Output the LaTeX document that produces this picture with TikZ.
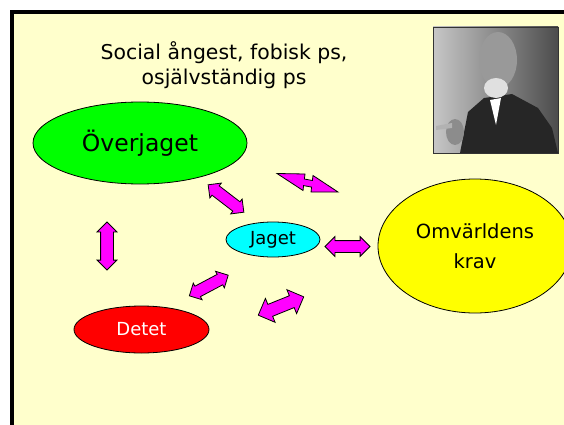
\documentclass[tikz,border=0pt]{standalone}
\usepackage{fontspec}
\setmainfont{DejaVu Sans}
\usetikzlibrary{shapes.geometric,shapes.arrows}
\definecolor{bakgrund}{RGB}{255,255,204}
\definecolor{lila}{RGB}{255,0,255}
\definecolor{gron}{RGB}{0,255,0}
\definecolor{turkos}{RGB}{0,255,255}
\definecolor{gul}{RGB}{255,255,0}
\definecolor{rod}{RGB}{255,0,0}

\begin{document}
\begin{tikzpicture}[x=1pt,y=-1pt]

      \useasboundingbox (0,0) rectangle (564,425);
      \clip (0,0) rectangle (564,425);
      \fill[white] (0,0) rectangle (564,425);
      \fill[bakgrund] (12,12) rectangle (600,460);
      \draw[line width=4pt] (600,12) -- (12,12) -- (12,460);

      % bilden
      \shade[left color=black!22, right color=black!70] (433,27) rectangle (558,153);
      \fill[black!85] (460,153) -- (468,112) -- (484,98) -- (512,94) -- (538,108) -- (552,128) -- (558,153) -- cycle;
      \fill[black!40] (498,60) ellipse (19pt and 28pt);
      \fill[black!12] (496,88) ellipse (12pt and 10pt);
      \fill[white] (490,100) -- (501,98) -- (496,125) -- cycle;
      \fill[black!45] (455,132) ellipse (9pt and 13pt);
      \fill[black!30] (436,126) -- (452,123) -- (452,128) -- (436,130) -- cycle;
      \draw[black!80, line width=0.6pt] (433,27) rectangle (558,153);

      \node (titel) at (224,65) [align=center, inner sep=0pt, font=\fontsize{20.4}{25}\selectfont] {Social ångest, fobisk ps,\\osjälvständig ps};

      \begin{scope}[every node/.style={ellipse,draw,line width=0.8pt,inner sep=0pt}]
        \node (over)  at (140,143)   [fill=gron, minimum width=214pt, minimum height=82pt, font=\fontsize{23.5}{28}\selectfont] {Överjaget};
        \node (jaget) at (273,239.5) [fill=turkos, minimum width=94pt, minimum height=35pt, font=\fontsize{18}{22}\selectfont] {Jaget};
        \node (detet) at (141.5,329.5) [fill=rod, text=white, minimum width=135pt, minimum height=47pt, font=\fontsize{18}{22}\selectfont] {Detet};
        \node (omv)   at (475,246)   [fill=gul, minimum width=194pt, minimum height=134pt, align=center, font=\fontsize{19.5}{30}\selectfont] {Omvärldens\\krav};
      \end{scope}

      \begin{scope}[every node/.style={double arrow,draw,fill=lila,line width=0.8pt,inner xsep=0pt,inner ysep=5.5pt,double arrow head extend=3.5pt}]
        \node (pil1) at (107,246)     [rotate=90,    minimum height=48pt, inner ysep=6pt] {};
        \node (pil2) at (226,198.5)   [rotate=-37.5, minimum height=45pt] {};
        \node (pil3) at (347.5,246.5) [minimum height=45pt, double arrow head extend=4pt] {};
        \node (pil4) at (208.8,285.5) [rotate=28,    minimum height=44pt] {};
        \node (pil5) at (281,306)     [rotate=22,    minimum height=49pt, inner ysep=6pt, double arrow head extend=6.5pt] {};
      \end{scope}

      \draw[fill=lila, line width=0.8pt] (277,173.5) -- (305,174) -- (304.4,179) -- (312.4,180.5) -- (313,175.5)
        -- (338,192) -- (311,192) -- (311.6,187.1) -- (303.6,185.6) -- (303,190.5) -- cycle;

    \end{tikzpicture}
\end{document}
